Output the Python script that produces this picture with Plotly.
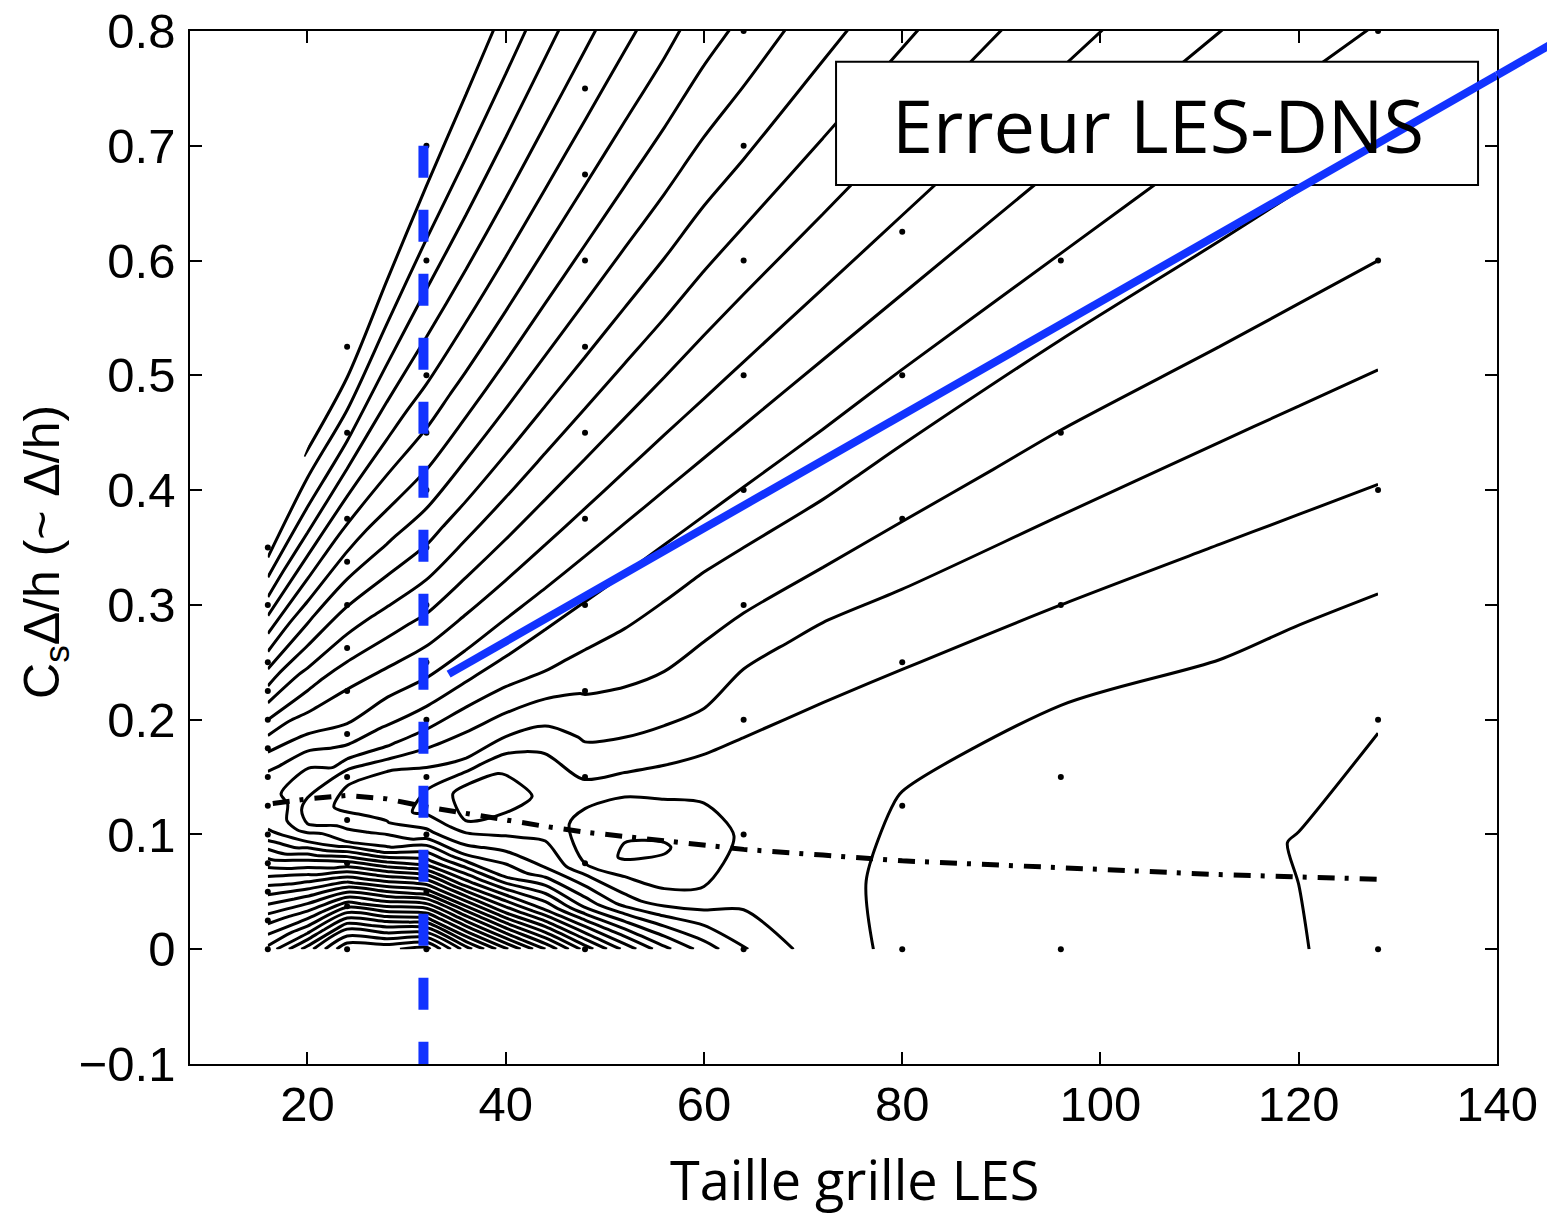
import plotly.graph_objects as go

# LES grid sizes and Smagorinsky constants on which the LES-DNS error is tabulated
N_GRID = [16, 20, 24, 28, 32, 36, 40, 44, 48, 52, 56, 60, 64, 72, 80, 96, 112, 120, 128]
CS_GRID = [0.0, 0.0125, 0.025, 0.0375, 0.05, 0.0625, 0.075, 0.0875, 0.1, 0.1125,
           0.125, 0.15, 0.175, 0.2, 0.225, 0.25, 0.3, 0.35]
REF_N = 16  # Cs*Delta/h = Cs * N / 16

# error (contour units), one list per grid size, entries follow CS_GRID
ERR_N16 = [19.3, 18.05, 16.7, 15.2, 13.7, 12.1, 10.5, 8.95, 7.3, 6.5, 6.05, 6.7, 8.2, 10.0, 11.7, 13.4, 16.6, 19.5]
ERR_N20 = [22.5, 19.7, 17.3, 14.9, 12.4, 9.9, 7.0, 5.0, 4.6, 5.5, 5.9, 8.0, 9.67, 11.26, 12.87, 14.5, 17.6, 20.05]
ERR_N24 = [25.9, 22.8, 18.8, 14.5, 10.3, 6.0, 4.3, 3.5, 4.35, 6.3, 7.7, 8.94, 10.5, 12.06, 13.63, 15.19, 18.3, 20.95]
ERR_N28 = [25.8, 21.5, 16.5, 11.5, 6.2, 4.1, 3.25, 3.85, 5.9, 7.1, 7.98, 9.67, 11.3, 12.9, 14.37, 15.8, 18.48, 20.8]
ERR_N32 = [26.4, 20.6, 14.5, 8.6, 4.4, 2.4, 3.5, 5.0, 6.5, 7.58, 8.5, 10.27, 11.93, 13.5, 14.9, 16.2, 18.6, 20.75]
ERR_N36 = [22.5, 16.2, 9.7, 4.6, 1.95, 1.8, 4.2, 5.3, 6.7, 7.75, 8.67, 10.42, 12.1, 13.65, 15.07, 16.37, 18.74, 20.77]
ERR_N40 = [19.2, 12.1, 6.05, 3.25, 1.7, 2.05, 4.15, 5.6, 6.85, 7.8, 8.75, 10.5, 12.17, 13.72, 15.15, 16.45, 18.8, 20.78]
ERR_N44 = [16.0, 9.0, 4.15, 2.6, 2.15, 3.05, 4.5, 5.95, 6.9, 7.86, 8.78, 10.52, 12.19, 13.73, 15.17, 16.47, 18.82, 20.78]
ERR_N48 = [12.6, 5.8, 1.98, 1.6, 3.1, 4.2, 5.07, 6.04, 6.93, 7.88, 8.79, 10.53, 12.2, 13.74, 15.18, 16.48, 18.83, 20.78]
ERR_N52 = [9.7, 3.5, 0.8, 1.5, 3.4, 4.5, 5.3, 6.1, 6.95, 7.88, 8.79, 10.53, 12.2, 13.74, 15.18, 16.48, 18.83, 20.78]
ERR_N56 = [7.3, 2.3, 0.85, 2.02, 3.5, 4.6, 5.35, 6.05, 6.95, 7.88, 8.79, 10.53, 12.2, 13.74, 15.18, 16.48, 18.83, 20.78]
ERR_N60 = [5.55, 2.05, 1.75, 2.1, 3.55, 4.5, 5.2, 5.99, 6.95, 7.88, 8.8, 10.5, 12.15, 13.7, 15.1, 16.48, 18.83, 20.78]
ERR_N64 = [4.1, 2.5, 2.08, 2.45, 3.25, 4.1, 5.15, 6.0, 6.95, 7.88, 8.8, 10.5, 12.2, 13.74, 15.18, 16.48, 18.83, 20.78]
ERR_N72 = [2.35, 2.3, 2.45, 2.55, 3.1, 3.93, 5.1, 6.03, 6.95, 7.88, 8.8, 10.53, 12.2, 13.74, 15.18, 16.48, 18.83, 20.78]
ERR_N80 = [1.8, 1.75, 1.93, 2.28, 3.08, 3.98, 5.04, 5.97, 6.92, 7.88, 8.8, 10.53, 12.2, 13.74, 15.18, 16.48, 18.83, 20.78]
ERR_N96 = [1.6, 1.45, 1.75, 2.05, 3.0, 3.96, 4.97, 5.92, 6.92, 7.88, 8.8, 10.53, 12.2, 13.74, 15.18, 16.48, 18.83, 20.78]
ERR_N112 = [1.25, 1.12, 1.4, 2.08, 2.97, 3.95, 5.0, 5.95, 6.92, 7.88, 8.8, 10.53, 12.2, 13.74, 15.18, 16.48, 18.83, 20.78]
ERR_N120 = [1.03, 0.98, 1.2, 1.99, 2.96, 3.95, 5.0, 5.95, 6.92, 7.88, 8.8, 10.53, 12.2, 13.74, 15.18, 16.48, 18.83, 20.78]
ERR_N128 = [0.8, 0.7, 1.04, 1.9, 2.95, 3.95, 5.0, 5.95, 6.93, 7.88, 8.8, 10.53, 12.2, 13.74, 15.18, 16.48, 18.83, 20.78]

ERR_COLUMNS = [ERR_N16, ERR_N20, ERR_N24, ERR_N28, ERR_N32, ERR_N36, ERR_N40, ERR_N44,
               ERR_N48, ERR_N52, ERR_N56, ERR_N60, ERR_N64, ERR_N72, ERR_N80, ERR_N96,
               ERR_N112, ERR_N120, ERR_N128]

# simulations actually run (black dots)
SIM_N = [16, 24, 32, 48, 64, 80, 96, 128]
SIM_CS = [0.0, 0.025, 0.05, 0.075, 0.1, 0.125, 0.15, 0.175, 0.2, 0.225, 0.25, 0.3, 0.35]

# optimal Cs*Delta/h curve (dash-dot)
OPT_N = [16.5, 20, 24, 28, 32, 36, 40, 44, 48, 52, 56, 60, 64, 72, 80, 96, 112, 128]
OPT_Y = [0.127, 0.131, 0.134, 0.131, 0.124, 0.118, 0.112, 0.107, 0.102, 0.098,
         0.094, 0.090, 0.087, 0.082, 0.077, 0.071, 0.065, 0.061]

# blue guides: vertical dashed marker and linear trend
MARK_N = [31.7, 31.7]
MARK_Y = [0.7, -0.1]
TREND_N = [34.24, 148.0]
TREND_Y = [0.2397, 0.801]

X_RANGE = [8.15, 140]
Y_RANGE = [-0.1, 0.8]
BLUE = "#1233ff"

Z = [[col[j] for col in ERR_COLUMNS] for j in range(len(CS_GRID))]
CX = [[n for n in N_GRID] for _ in CS_GRID]
CY = [[cs * n / REF_N for n in N_GRID] for cs in CS_GRID]

hidden_axis = dict(showgrid=False, showline=False, showticklabels="none", startline=False,
                   endline=False, minorgridcount=0, smoothing=0,
                   gridcolor="rgba(0,0,0,0)", linecolor="rgba(0,0,0,0)")

fig = go.Figure()
fig.add_trace(go.Carpet(a=N_GRID, b=CS_GRID, x=CX, y=CY, carpet="grid",
                        aaxis=hidden_axis, baxis=hidden_axis,
                        color="rgba(0,0,0,0)"))
fig.add_trace(go.Contourcarpet(a=N_GRID, b=CS_GRID, z=Z, carpet="grid",
                               autocontour=False,
                               contours=dict(start=1, end=26, size=1, coloring="lines"),
                               colorscale=[[0, "black"], [1, "black"]],
                               line=dict(width=3, smoothing=0.8),
                               showscale=False))

dots_x, dots_y = [], []
for n in SIM_N:
    for cs in SIM_CS:
        yv = cs * n / REF_N
        if yv <= Y_RANGE[1] + 1e-9:
            dots_x.append(n)
            dots_y.append(yv)
fig.add_trace(go.Scatter(x=dots_x, y=dots_y, mode="markers",
                         marker=dict(size=6, color="black"), showlegend=False))

fig.add_trace(go.Scatter(x=OPT_N, y=OPT_Y, mode="lines",
                         line=dict(color="black", width=5, dash="17px,10px,4px,11px"),
                         showlegend=False))
fig.add_trace(go.Scatter(x=MARK_N, y=MARK_Y, mode="lines",
                         line=dict(color=BLUE, width=10, dash="32px,32px"),
                         showlegend=False))

# legend-like title box
fig.add_shape(type="rect", xref="paper", yref="paper", x0=0.4943, x1=0.9855, y0=0.851, y1=0.9703,
              line=dict(color="black", width=2), fillcolor="white", layer="above")
fig.add_annotation(text="Erreur LES-DNS", xref="paper", yref="paper", x=0.7406, y=0.9092,
                   showarrow=False, font=dict(family="Open Sans", size=74, color="black"),
                   xanchor="center", yanchor="middle")

# blue trend line: inside the axes, then the part running past the right frame
slope = (TREND_Y[1] - TREND_Y[0]) / (TREND_N[1] - TREND_N[0])
y_edge = TREND_Y[0] + slope * (X_RANGE[1] - TREND_N[0])
fig.add_shape(type="line", xref="x", yref="y", x0=TREND_N[0], y0=TREND_Y[0],
              x1=X_RANGE[1], y1=y_edge, line=dict(color=BLUE, width=8), layer="above")


def to_paper(v, rng):
    return (v - rng[0]) / (rng[1] - rng[0])


fig.add_shape(type="line", xref="paper", yref="paper",
              x0=to_paper(X_RANGE[1], X_RANGE), y0=to_paper(y_edge, Y_RANGE),
              x1=to_paper(TREND_N[1], X_RANGE), y1=to_paper(TREND_Y[1], Y_RANGE),
              line=dict(color=BLUE, width=8), layer="above")

axis_common = dict(showgrid=False, zeroline=False, showline=True, linecolor="black", linewidth=1.5,
                   mirror="ticks", ticks="inside", ticklen=12, tickwidth=1.5, tickcolor="black",
                   automargin=False,
                   tickfont=dict(family="Liberation Sans", size=49, color="black"))
fig.update_xaxes(range=X_RANGE, tickmode="array", tickvals=[20, 40, 60, 80, 100, 120, 140],
                 ticklabelstandoff=-4, **axis_common)
fig.update_yaxes(range=Y_RANGE, tickmode="linear", tick0=0, dtick=0.1, ticklabelstandoff=3,
                 **axis_common)

fig.add_annotation(text="Taille grille LES", xref="paper", yref="paper", x=0.5084, y=-0.111,
                   showarrow=False, font=dict(family="Open Sans", size=54, color="black"),
                   xanchor="center", yanchor="middle")
fig.add_annotation(text="C<sub>s</sub>\u0394/h (~ \u0394/h)", xref="paper", yref="paper",
                   x=-0.111, y=0.4956, textangle=-90, showarrow=False,
                   font=dict(family="Liberation Sans", size=50, color="black"),
                   xanchor="center", yanchor="middle")

fig.update_layout(width=1547, height=1217, margin=dict(l=190, r=50, t=31, b=153),
                  plot_bgcolor="white", paper_bgcolor="white", showlegend=False)

fig.write_html("out.html")
